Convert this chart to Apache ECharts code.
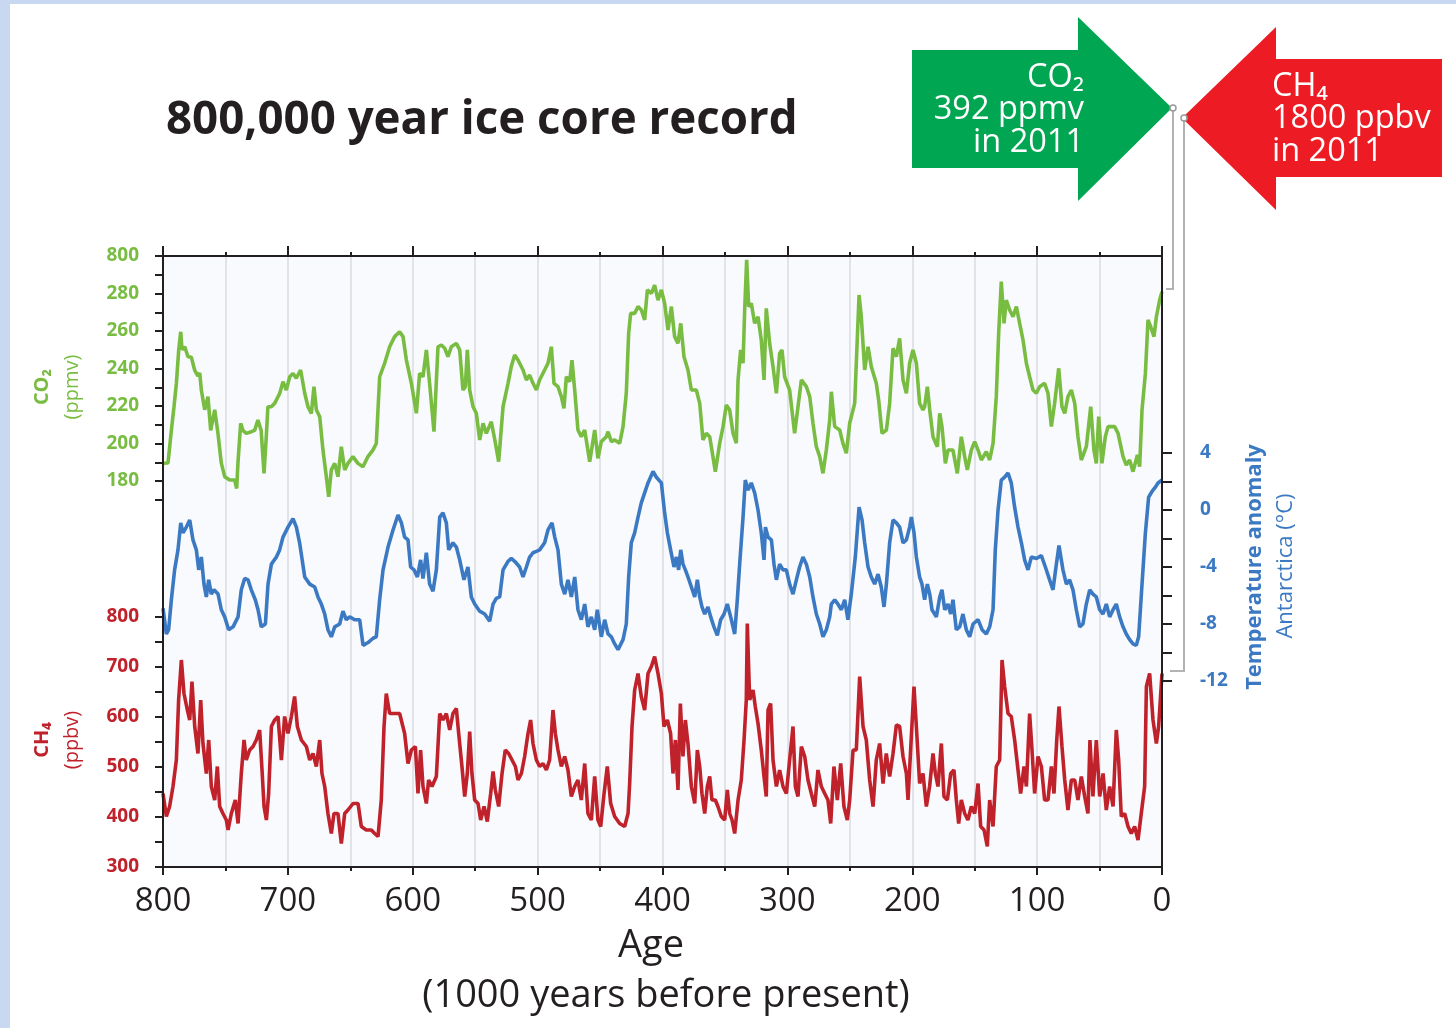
<!DOCTYPE html>
<html>
<head>
<meta charset="utf-8">
<script src="https://cdn.jsdelivr.net/npm/echarts@6/dist/echarts.min.js"></script>
<style>
  html, body { margin: 0; padding: 0; background: #ffffff; }
  #chart { width: 1456px; height: 1028px; }
</style>
</head>
<body>
<div id="chart"></div>
<script>
// ---- Data: [age (thousand years before present), value] ----
const co2 = [
  [800,189.5],[796,189.6],[793.3,207],[791.2,219.6],[789.3,232],[787.4,250],[785.8,259.6],[784.8,250],[782.6,251.6],[780,246.3],
  [777.3,246],[774.6,239],[772,236],[770.6,237.6],[769.3,228.5],[766.6,218],[764,225],[761.8,207],[758.6,218],[756,205.5],
  [753.3,189.5],[750.6,182.3],[746.6,180.5],[742.6,180.5],[741,176],[740,189.4],[737.8,210.8],[736,207],[733.3,205.4],[729.3,206.3],
  [726.6,207],[724,212.5],[721.4,207],[719.1,184],[717.3,203.6],[716,219.6],[713.3,219.6],[710.6,221.4],[706.5,226.8],[703.9,233],
  [701.3,228.5],[698.5,235.6],[695.9,237.4],[693.3,234.8],[689.8,239.2],[686.5,226.8],[683.9,219.6],[681.2,216],[679.1,230.3],[677.2,218],
  [674.5,214.3],[671.9,196.5],[669.2,182.3],[667.3,171.6],[665.2,185.9],[662.5,189.4],[659.9,182.3],[657.2,198.3],[654.5,185.9],[651.9,189.4],
  [647.9,193],[643.9,189.4],[639.9,187.6],[635.9,193],[631.9,196.5],[629.2,200],[626.5,235.6],[622.5,242.8],[618.5,251.6],[614.5,257],
  [610.5,259.6],[607.8,257],[605.1,244.5],[601.1,232.1],[597.1,216.1],[594.5,237.4],[591.8,235.6],[589.1,249.9],[586.5,232.1],[583,206.3],
  [579.8,251.6],[577.1,252.5],[574.4,250.8],[571.8,246.3],[569.1,251.6],[565.1,253.4],[562.4,249.9],[559.8,228.5],[557.9,230.3],[556.3,249.9],
  [554.4,228.5],[551.7,219.6],[549.1,216.1],[546.4,201.9],[543.7,210.8],[541.1,205.4],[537.1,211.6],[534.4,202.4],[531.2,190.3],[527.7,219.6],
  [523.7,232.1],[521.1,241],[518.4,247.2],[515.7,244.5],[511.7,239.2],[509,233.9],[506.4,236.5],[503.7,232.1],[501,228.5],[498.4,233.9],
  [494.4,239.2],[491.7,242.8],[489,251.6],[486.9,232.1],[483.7,230.3],[481,225],[478.9,218.8],[477,235.6],[474.3,233],[472.5,244.5],
  [470.3,228.5],[467.7,207.2],[465,203.6],[462.3,207.2],[458.3,190.3],[454.3,207.2],[451.7,192.1],[449,201],[445,203.6],[443.6,206.3],
  [441,201],[438.3,201.9],[434.3,200.1],[431.6,209],[429,226.8],[427.1,258.8],[425.5,269.4],[422.3,269.4],[419.6,273],[416.9,271.2],
  [414.3,265.9],[412.1,281.9],[408.9,280.1],[406.3,284.5],[403.6,276.5],[400.9,281.9],[398.3,274.8],[395.6,260.5],[392.9,273],[390.3,257],
  [387.6,253.4],[385.4,264.1],[382.8,246.3],[379.6,239.2],[376.9,228.5],[372.9,228.5],[370.2,221.4],[367.6,201.9],[364.9,205.4],[362.2,203.6],
  [359.6,193],[357.7,185],[354.2,200.1],[351.5,209],[348.9,220.5],[346.2,217.9],[343.5,205.4],[340.9,200.1],[339.5,233.9],[337.4,249.9],
  [335.5,242.8],[334.2,271.2],[332.6,297.9],[331,273],[328.9,274.8],[326.2,264.1],[323.5,267.6],[320.9,255.2],[318.7,233.9],[316.9,272.1],
  [314.2,253.4],[311.5,241],[308.8,226.8],[306.2,248.1],[304.3,249.9],[302.2,235.6],[298.2,228.5],[294.2,205.4],[291.5,219.6],[288.8,233.9],
  [284.8,230.3],[282.1,225],[279.5,210.8],[276.8,198.3],[274.1,193],[271.5,184.1],[268.8,196.5],[266.1,212.5],[264.8,227.6],[262.1,209],
  [258.1,207.2],[255.5,200.1],[252.8,194.8],[250.1,210.8],[246.1,221.4],[242.6,279.2],[240.8,267.6],[238.1,239.2],[235.4,251.6],[232.8,241],
  [228.8,232.1],[226.9,223.2],[224.2,205.4],[220.7,207.2],[218.1,221.4],[215.4,250.8],[212.7,246.3],[210.1,256.1],[207.4,233.9],[204.7,226.8],
  [202.1,242.8],[199.4,249.9],[196.7,242.8],[194.1,221.4],[191.4,217.9],[190.1,219.6],[187.9,230.3],[186,217.9],[183.4,203.6],[179.9,198.3],
  [178,216.1],[176.2,209],[173.5,189.4],[171.4,196.5],[167.4,196.5],[163.9,184.1],[160.7,203.6],[158,193],[155.9,185.9],[152.7,196.5],
  [150,201],[147.3,196.5],[144.7,191.2],[140.7,195.6],[138,191.2],[135.3,200.1],[132.7,225],[130.8,258.8],[128.7,286.3],[126.5,264.1],
  [124.7,276.5],[122,271.2],[119.3,267.6],[116.6,273],[114,264.1],[111.3,255.2],[108.6,242.8],[106,235.6],[103.3,228.5],[100.6,226.8],
  [98,230.3],[94,232.1],[91.3,226.8],[88.6,209],[86,221.4],[82.7,240.1],[80.1,219.6],[77.9,216.1],[75.3,225],[72.6,228.5],
  [69.9,221.4],[67.3,203.6],[64.6,191.2],[60.6,198.3],[57.1,219.6],[54.5,196.5],[52.6,189.4],[50.7,214.3],[48.1,189.4],[45.4,203.6],
  [43.2,209],[37.9,209],[35.2,205.4],[31.2,193],[28.6,188.5],[25.9,191.2],[23.2,185],[19.7,193.9],[17.9,187.6],[16,217.9],
  [13.3,237.4],[11.2,265.9],[9.1,262.3],[6.4,257],[4.5,267.6],[1.9,276.5],[0,281]
];

const tempAnomaly = [
  [800,-6.9],[797.3,-8.7],[795.5,-8.4],[793.3,-6.3],[790.7,-4.2],[788,-2.8],[785.8,-0.9],[784,-1.6],[781.3,-1.2],[778.6,-0.7],
  [776,-2.1],[773.3,-2.8],[771.4,-4.2],[769.3,-3.3],[767.2,-5.2],[765.3,-6.1],[763.4,-4.9],[761.3,-5.9],[759.2,-5.6],[755.9,-5.9],
  [753.3,-7.0],[750.6,-7.5],[747.4,-8.4],[743.9,-8.2],[739.9,-7.5],[737.3,-5.6],[734.6,-4.8],[731.9,-4.9],[729.3,-5.6],[726.1,-6.3],
  [723.9,-7.0],[721.3,-8.2],[718,-8.0],[715.9,-5.2],[713.2,-3.8],[709.2,-3.3],[706.6,-2.8],[703.9,-1.9],[699.9,-1.2],[695.9,-0.6],
  [693.2,-1.2],[690.6,-2.3],[686.5,-4.7],[682.5,-5.2],[678.5,-5.4],[675.9,-6.1],[673.2,-6.6],[670.5,-7.3],[667.9,-8.4],[665.2,-8.9],
  [662.5,-8.2],[658.5,-8.0],[655.9,-7.1],[653.2,-7.7],[650.5,-7.5],[646.5,-7.7],[642.5,-7.7],[639.8,-9.5],[635.8,-9.3],[631.8,-9.0],
  [629.2,-8.9],[626.5,-6.3],[623.8,-4.2],[619.8,-2.6],[615.8,-1.4],[611.8,-0.35],[609.1,-0.9],[606.5,-1.9],[603.8,-2.1],[601.7,-4.0],
  [599,-4.2],[596.3,-4.7],[593.7,-3.5],[591.8,-4.8],[589.1,-3.0],[586.5,-5.2],[583.8,-5.7],[581.1,-4.2],[578.4,-0.5],[575.8,-0.2],
  [573.1,-0.9],[571.2,-2.8],[567.8,-2.3],[565.1,-2.6],[562.4,-3.5],[559,-4.9],[555.8,-4.0],[553.1,-6.1],[550.4,-6.6],[546.4,-7.1],
  [542.4,-7.3],[538.4,-7.8],[535.7,-6.6],[533.1,-6.2],[530.4,-6.1],[527.7,-4.2],[523.7,-3.6],[521.1,-3.4],[518.4,-3.6],[514.4,-4.0],
  [511.7,-4.7],[509,-4.0],[506.4,-3.3],[503.7,-3.0],[501,-2.9],[498.4,-2.8],[494.4,-2.3],[491.7,-1.4],[488.5,-0.9],[486.3,-1.9],
  [483.7,-2.8],[481,-5.2],[478.3,-5.9],[475.7,-4.9],[473,-6.1],[470.3,-4.7],[467.7,-7.0],[465,-7.7],[462.3,-6.6],[459.7,-8.2],
  [457,-7.5],[454.3,-8.4],[452.2,-7.0],[449,-8.9],[446.3,-7.7],[443.6,-8.7],[441,-8.9],[438.3,-9.4],[435.6,-9.8],[431.6,-9.1],
  [429,-8.0],[427.1,-4.7],[425,-2.3],[422.3,-1.6],[419.6,-0.5],[417,0.5],[414.3,1.2],[411.6,1.9],[407.6,2.7],[404.9,2.3],
  [400.9,1.9],[398.3,-0.2],[396.1,-1.6],[393.5,-2.8],[390.8,-4.0],[388.9,-3.3],[387.1,-4.2],[385.4,-2.8],[383.6,-3.8],[381.7,-4.2],
  [379.6,-4.7],[376.9,-5.4],[374.2,-6.1],[372.1,-4.9],[370.2,-6.1],[368.4,-6.8],[366.2,-7.3],[363.6,-6.8],[361.4,-7.5],[358.8,-8.2],
  [356.1,-8.8],[353.4,-7.7],[350.7,-7.3],[348.1,-6.6],[345.4,-7.5],[342.2,-8.7],[340.1,-6.3],[338.2,-3.8],[335.5,-0.5],[333.7,2.1],
  [331.5,1.4],[328.9,1.9],[326.2,1.2],[323.5,0.0],[320.9,-1.6],[318.7,-3.5],[317.6,-1.2],[315.5,-1.9],[312.8,-2.1],[310.7,-3.8],
  [308.8,-4.9],[306.2,-3.8],[303.5,-4.2],[300.8,-4.2],[298.2,-5.2],[295.5,-5.9],[292.8,-4.9],[290.2,-4.0],[287.5,-3.3],[284.8,-3.8],
  [282.1,-4.7],[279.5,-6.1],[276.8,-7.3],[274.1,-8.0],[271.5,-8.9],[268.8,-8.4],[266.1,-7.5],[264.8,-6.6],[262.1,-6.3],[259.5,-6.6],
  [256.8,-7.0],[254.1,-6.3],[251.5,-7.7],[248.8,-5.9],[245.6,-3.3],[242.6,0.2],[240.2,-0.7],[238.1,-2.3],[235.4,-4.0],[232.8,-4.7],
  [230.1,-5.2],[227.4,-4.5],[224.8,-5.4],[222.6,-6.8],[220.7,-5.2],[218.1,-2.3],[215.4,-0.7],[212.7,-0.9],[210.1,-1.2],[207.4,-2.3],
  [204.7,-2.1],[202.1,-1.2],[200.7,-0.5],[198.6,-1.6],[196.7,-3.3],[194.1,-4.7],[192.2,-5.2],[190.1,-6.3],[187.9,-5.2],[186,-5.9],
  [184.2,-7.0],[180.7,-7.5],[178,-6.1],[176.2,-5.6],[174,-7.0],[171.4,-6.6],[169.2,-7.3],[167.4,-6.3],[164.7,-8.4],[162,-8.2],
  [159.4,-7.3],[156.7,-8.4],[154,-8.9],[151.3,-8.0],[147.3,-7.7],[144.1,-8.4],[140.7,-8.7],[138,-8.2],[135.3,-7.0],[133.5,-2.8],
  [131.3,0.0],[128.7,2.1],[126,2.3],[123.3,2.6],[120.7,1.9],[118,0.2],[115.3,-1.2],[112.6,-2.3],[110,-3.5],[107.3,-4.2],
  [104.6,-3.3],[100.6,-3.4],[96.6,-3.2],[93.4,-4.0],[90,-4.9],[87.3,-5.6],[84.6,-3.8],[82.5,-2.5],[79.3,-4.2],[76.6,-5.2],
  [74,-4.9],[71.3,-5.6],[68.6,-7.0],[65.9,-8.2],[63.3,-8.0],[60.6,-6.6],[57.9,-5.6],[55.3,-5.9],[52.6,-6.1],[49.9,-7.0],
  [47.2,-7.3],[44.6,-6.6],[41.9,-7.5],[39.2,-7.0],[36.6,-6.6],[33.9,-7.5],[31.2,-8.2],[28.6,-8.7],[25.9,-9.1],[23.2,-9.4],
  [20.6,-9.5],[18.7,-8.9],[16,-5.2],[13.3,-1.6],[10.7,0.9],[8,1.3],[5.3,1.6],[3.2,1.9],[0,2.1]
];

const ch4 = [
  [800,447],[797.3,401],[794.7,421],[792,461],[789.3,514],[787.5,634],[785.3,714],[783.2,647],[780.5,614],[778.6,594],
  [776.8,671],[774.6,581],[772,527],[769.8,634],[768,547],[765.3,487],[763.4,554],[761.3,461],[758.6,434],[756.5,501],
  [754.6,421],[752,407],[749.3,394],[747.9,374],[745.3,407],[742.1,434],[739.9,387],[737.3,487],[735.1,554],[733.3,514],
  [730.6,534],[727.9,541],[725.3,554],[722.6,574],[720.7,494],[719.1,421],[717.2,394],[715.4,447],[713.2,581],[710.6,594],
  [707.9,601],[705.2,514],[702.6,601],[699.9,567],[697.2,601],[694.6,641],[692.4,581],[689.2,554],[685.2,541],[682.5,514],
  [679.9,527],[677.2,501],[674.5,554],[672.7,487],[670.5,461],[667.9,407],[665.2,367],[663.1,407],[659.9,407],[657.2,347],
  [654.5,407],[651.9,414],[647.8,427],[643.8,427],[641.2,381],[637.2,374],[633.2,374],[630.5,367],[627.8,361],[625.2,434],
  [623,581],[621.2,647],[618.5,607],[614.5,607],[610.5,607],[606.5,567],[603.8,507],[601.1,534],[597.9,541],[595.8,447],
  [593.7,534],[591.8,461],[589.1,427],[587.3,474],[584.6,461],[581.1,481],[578.4,607],[575.8,594],[573.1,607],[570.4,574],
  [567.8,607],[565.1,617],[563.2,567],[560.6,501],[558.4,441],[556.3,487],[554.4,571],[552.6,487],[550.4,434],[547.7,427],
  [545.6,394],[542.9,421],[540.3,391],[537.6,447],[535.7,491],[533.9,454],[531.2,421],[528.5,487],[525.9,534],[523.2,527],
  [520.5,514],[517.8,501],[515.7,474],[513,487],[510.4,521],[507.7,567],[505.6,594],[503.7,547],[501,514],[498.4,501],
  [495.7,507],[493,494],[490.4,514],[487.7,614],[485.8,567],[483.7,534],[481,501],[478.3,521],[475.7,494],[473,441],
  [470.3,461],[467.7,474],[465,434],[462.3,507],[459.7,407],[457,394],[454.3,481],[451.7,394],[449.5,381],[446.8,447],
  [444.2,501],[441.5,427],[438.3,401],[434.3,387],[430.3,381],[427.6,407],[426.3,467],[424.4,581],[422.3,654],[419.6,687],
  [417,641],[414.3,614],[411.6,687],[408.9,701],[406.3,721],[403.6,687],[400.9,647],[398.8,581],[396.1,594],[393.5,567],
  [391.6,487],[389.7,554],[387.6,454],[385.7,627],[383.6,521],[381.7,594],[379.6,547],[376.9,461],[374.2,427],[372.1,534],
  [370.2,501],[368.4,447],[366.2,407],[364.1,461],[362.2,481],[360.4,434],[357.7,434],[355.6,421],[352.9,401],[350.2,394],
  [348.1,454],[346.2,407],[344.3,394],[342.2,367],[339.5,434],[336.9,474],[334.7,554],[332.9,634],[332.1,787],[330.2,634],
  [327.5,654],[325.7,621],[323.5,587],[320.9,534],[318.7,481],[316.9,441],[315.5,614],[313.4,627],[311.5,514],[308.8,461],
  [306.2,494],[303.5,461],[300.8,447],[298.2,514],[295.5,581],[293.6,461],[291.5,441],[288.8,541],[286.1,521],[283.5,474],
  [280.8,447],[278.1,421],[275.5,494],[272.8,461],[270.1,447],[267.5,434],[265.3,387],[262.7,501],[260,434],[257.3,507],
  [254.7,421],[252,394],[250.1,434],[247.4,534],[244.8,534],[242.1,681],[239.4,581],[236.8,554],[234.1,474],[231.4,421],
  [228.8,514],[226.1,547],[223.4,467],[220.8,527],[218.1,481],[215.4,527],[212.7,584],[210.1,581],[207.4,521],[204.7,487],
  [203.4,434],[201.3,534],[198.6,661],[196.7,581],[194.1,467],[191.4,487],[188.7,421],[186.1,461],[183.4,527],[181.5,487],
  [179.4,461],[176.7,547],[174.6,441],[171.9,434],[169.2,487],[166.6,494],[164.7,434],[162.8,387],[160.7,434],[158,407],
  [155.4,394],[152.7,421],[150,407],[147.3,467],[145.2,381],[142.5,374],[139.9,341],[138,434],[135.3,381],[132.7,501],
  [130,514],[128.1,714],[126,661],[123.3,607],[120.7,601],[118,554],[115.3,494],[113.2,447],[110.5,501],[108.6,461],
  [106,607],[104.1,534],[102,447],[99.3,521],[96.6,501],[94,434],[91.3,434],[88.6,501],[86.5,447],[84.3,554],
  [82.5,621],[80.1,541],[77.9,474],[75.3,414],[72.6,474],[69.9,474],[67.3,434],[64.6,481],[61.9,441],[59.3,407],
  [57.7,554],[55.3,441],[52.6,554],[49.9,441],[47.2,487],[44.6,414],[41.9,461],[39.2,421],[36.6,574],[34.7,514],
  [32.6,401],[29.9,407],[27.2,381],[24.6,367],[21.9,381],[19.2,354],[16.6,407],[13.9,461],[12.5,661],[9.9,687],
  [7.2,594],[4.5,547],[2.7,581],[0,687]
];

// ---- Tick labels ----
const ageTickValues = [0, 100, 200, 300, 400, 500, 600, 700, 800];
const co2TickValues = [180, 200, 220, 240, 260, 280, 300];
const co2TickTexts  = ['180', '200', '220', '240', '260', '280', '800'];
const tempTickValues = [-12, -8, -4, 0, 4];
const ch4TickValues = [300, 400, 500, 600, 700, 800];

// ---- Present-day values ----
const co2Now = { label: 'CO\u2082', value: '392 ppmv', year: 'in 2011' };
const ch4Now = { label: 'CH\u2084', value: '1800 ppbv', year: 'in 2011' };

// ---- Styling ----
const FONT = "'Open Sans', 'Noto Sans', 'DejaVu Sans', sans-serif";
const INK = '#231f20';
const GREEN = '#78bd42';
const BLUE = '#3b79c3';
const RED = '#c0222b';
const PLOT = { left: 163, top: 256, width: 999, height: 611 };

const chart = echarts.init(document.getElementById('chart'), null, { renderer: 'canvas' });

function hiddenX(gridIndex) {
  return { type: 'value', gridIndex, min: 0, max: 800, inverse: true, show: false,
           axisLine: { onZero: false } };
}
function tickFormatter(values, texts) {
  return function (v) {
    const i = values.indexOf(Math.round(v * 1000) / 1000);
    return i < 0 ? '' : (texts ? texts[i] : String(values[i]));
  };
}
const tickLabelStyle = (color) => ({
  color, fontFamily: FONT, fontWeight: 'bold', fontSize: 19
});
const blackTick = (len) => ({ show: true, inside: false, length: len, lineStyle: { color: INK, width: 2 } });

const option = {
  backgroundColor: '#ffffff',
  animation: false,
  grid: [
    { left: PLOT.left, top: PLOT.top, width: PLOT.width, height: PLOT.height,
      show: true, backgroundColor: '#f9fafd', borderWidth: 0 },
    // CO2 band: 170–300 ppmv
    { left: PLOT.left, top: 256, width: PLOT.width, height: 243.75 },
    // temperature band: -12 to 4 °C
    { left: PLOT.left, top: 453, width: PLOT.width, height: 228 },
    // CH4 band: 300–800 ppbv
    { left: PLOT.left, top: 617, width: PLOT.width, height: 250 }
  ],
  xAxis: [
    { // bottom age axis with labels
      type: 'value', gridIndex: 0, position: 'bottom', min: 0, max: 800, interval: 100, inverse: true, z: 5,
      axisLine: { show: true, onZero: false, lineStyle: { color: INK, width: 2 } },
      axisTick: blackTick(8),
      minorTick: { show: true, splitNumber: 2, length: 4, lineStyle: { color: INK, width: 2 } },
      axisLabel: { color: INK, fontFamily: FONT, fontSize: 33, margin: 18,
                   formatter: tickFormatter(ageTickValues) },
      splitLine: { show: false }
    },
    { // top frame edge with ticks
      type: 'value', gridIndex: 0, position: 'top', min: 0, max: 800, interval: 100, inverse: true, z: 5,
      axisLine: { show: true, onZero: false, lineStyle: { color: INK, width: 2 } },
      axisTick: blackTick(10),
      minorTick: { show: true, splitNumber: 2, length: 4, lineStyle: { color: INK, width: 2 } },
      axisLabel: { show: false },
      splitLine: { show: false }
    },
    { // vertical grid lines every 50 kyr
      type: 'value', gridIndex: 0, position: 'bottom', min: 0, max: 800, interval: 100, inverse: true, z: 1,
      axisLine: { show: false, onZero: false }, axisTick: { show: false }, axisLabel: { show: false },
      minorTick: { show: false, splitNumber: 2 },
      splitLine: { show: true, lineStyle: { color: '#e2e3e8', width: 2 } },
      minorSplitLine: { show: true, lineStyle: { color: '#e2e3e8', width: 2 } }
    },
    hiddenX(1), hiddenX(2), hiddenX(3)
  ],
  yAxis: [
    { type: 'value', gridIndex: 0, position: 'left', min: 0, max: 1, z: 5,
      axisLine: { show: true, onZero: false, lineStyle: { color: INK, width: 2 } },
      axisTick: { show: false }, axisLabel: { show: false }, splitLine: { show: false } },
    { type: 'value', gridIndex: 0, position: 'right', min: 0, max: 1, z: 5,
      axisLine: { show: true, onZero: false, lineStyle: { color: INK, width: 2 } },
      axisTick: { show: false }, axisLabel: { show: false }, splitLine: { show: false } },
    { // CO2
      type: 'value', gridIndex: 1, position: 'left', min: 170, max: 300, interval: 10, z: 5,
      axisLine: { show: true, onZero: false, lineStyle: { color: INK, width: 2 } },
      axisTick: blackTick(8),
      axisLabel: Object.assign(tickLabelStyle(GREEN), { margin: 24, formatter: tickFormatter(co2TickValues, co2TickTexts) }),
      splitLine: { show: false }
    },
    { // temperature
      type: 'value', gridIndex: 2, position: 'right', min: -12, max: 4, interval: 2, z: 5,
      axisLine: { show: true, onZero: false, lineStyle: { color: INK, width: 2 } },
      axisTick: blackTick(10),
      axisLabel: Object.assign(tickLabelStyle(BLUE), { margin: 38, formatter: tickFormatter(tempTickValues) }),
      splitLine: { show: false }
    },
    { // CH4
      type: 'value', gridIndex: 3, position: 'left', min: 300, max: 800, interval: 50, z: 5,
      axisLine: { show: true, onZero: false, lineStyle: { color: INK, width: 2 } },
      axisTick: blackTick(8),
      axisLabel: Object.assign(tickLabelStyle(RED), { margin: 24, formatter: tickFormatter(ch4TickValues) }),
      splitLine: { show: false }
    }
  ],
  series: [
    { name: 'CO2', type: 'line', xAxisIndex: 3, yAxisIndex: 2, data: co2, showSymbol: false,
      lineStyle: { color: GREEN, width: 3.6 }, z: 3 },
    { name: 'Temperature', type: 'line', xAxisIndex: 4, yAxisIndex: 3, data: tempAnomaly, showSymbol: false,
      lineStyle: { color: BLUE, width: 3.6 }, z: 3 },
    { name: 'CH4', type: 'line', xAxisIndex: 5, yAxisIndex: 4, data: ch4, showSymbol: false,
      lineStyle: { color: RED, width: 3.6 }, z: 3 }
  ],
  graphic: [
    // page edge bands
    { type: 'rect', shape: { x: 0, y: 0, width: 10, height: 1028 }, style: { fill: '#c8d8f0' }, silent: true },
    { type: 'rect', shape: { x: 0, y: 0, width: 1456, height: 4 }, style: { fill: '#c8d8f0' }, silent: true },
    // title
    { type: 'text', x: 166, y: 121, style: { text: '800,000 year ice core record', fill: INK,
      fontFamily: FONT, fontWeight: 'bold', fontSize: 45.7, align: 'left', verticalAlign: 'middle' } },
    // axis titles
    { type: 'text', x: 651, y: 946, style: { text: 'Age', fill: INK, fontFamily: FONT, fontSize: 38,
      align: 'center', verticalAlign: 'middle' } },
    { type: 'text', x: 666, y: 996, style: { text: '(1000 years before present)', fill: INK, fontFamily: FONT, fontSize: 38,
      align: 'center', verticalAlign: 'middle' } },
    { type: 'text', x: 42, y: 387, rotation: Math.PI / 2, style: { text: 'CO\u2082', fill: GREEN, fontFamily: FONT,
      fontWeight: 'bold', fontSize: 20, align: 'center', verticalAlign: 'middle' } },
    { type: 'text', x: 72, y: 387, rotation: Math.PI / 2, style: { text: '(ppmv)', fill: GREEN, fontFamily: FONT,
      fontSize: 20, align: 'center', verticalAlign: 'middle' } },
    { type: 'text', x: 42, y: 740, rotation: Math.PI / 2, style: { text: 'CH\u2084', fill: RED, fontFamily: FONT,
      fontWeight: 'bold', fontSize: 20, align: 'center', verticalAlign: 'middle' } },
    { type: 'text', x: 72, y: 740, rotation: Math.PI / 2, style: { text: '(ppbv)', fill: RED, fontFamily: FONT,
      fontSize: 20, align: 'center', verticalAlign: 'middle' } },
    { type: 'text', x: 1255, y: 567, rotation: Math.PI / 2, style: { text: 'Temperature anomaly', fill: BLUE, fontFamily: FONT,
      fontWeight: 'bold', fontSize: 22, align: 'center', verticalAlign: 'middle' } },
    { type: 'text', x: 1286, y: 566, rotation: Math.PI / 2, style: { text: 'Antarctica (\u00b0C)', fill: BLUE, fontFamily: FONT,
      fontSize: 22, align: 'center', verticalAlign: 'middle' } },
    // present-day arrows
    { type: 'polygon', shape: { points: [[912, 50], [1078, 50], [1078, 17], [1172, 108], [1078, 201], [1078, 168], [912, 168]] },
      style: { fill: '#00a651' }, z: 10 },
    { type: 'polygon', shape: { points: [[1442, 59], [1276, 59], [1276, 27], [1182, 118], [1276, 210], [1276, 177], [1442, 177]] },
      style: { fill: '#ed1c24' }, z: 10 },
    { type: 'text', x: 1084, y: 78, z: 11, style: { text: co2Now.label, fill: '#ffffff', fontFamily: FONT, fontSize: 32.5, align: 'right', verticalAlign: 'middle' } },
    { type: 'text', x: 1084, y: 110, z: 11, style: { text: co2Now.value, fill: '#ffffff', fontFamily: FONT, fontSize: 32.5, align: 'right', verticalAlign: 'middle' } },
    { type: 'text', x: 1084, y: 143, z: 11, style: { text: co2Now.year, fill: '#ffffff', fontFamily: FONT, fontSize: 32.5, align: 'right', verticalAlign: 'middle' } },
    { type: 'text', x: 1272, y: 87, z: 11, style: { text: ch4Now.label, fill: '#ffffff', fontFamily: FONT, fontSize: 32.5, align: 'left', verticalAlign: 'middle' } },
    { type: 'text', x: 1272, y: 119, z: 11, style: { text: ch4Now.value, fill: '#ffffff', fontFamily: FONT, fontSize: 32.5, align: 'left', verticalAlign: 'middle' } },
    { type: 'text', x: 1272, y: 152, z: 11, style: { text: ch4Now.year, fill: '#ffffff', fontFamily: FONT, fontSize: 32.5, align: 'left', verticalAlign: 'middle' } },
    // leader lines from arrow tips to the end of the record
    { type: 'polyline', shape: { points: [[1173, 108], [1173, 289], [1166, 289]] },
      style: { stroke: '#b3b3b3', lineWidth: 2, fill: null }, z: 9 },
    { type: 'polyline', shape: { points: [[1184, 118], [1184, 671], [1170, 671]] },
      style: { stroke: '#b3b3b3', lineWidth: 2, fill: null }, z: 9 },
    { type: 'circle', shape: { cx: 1173, cy: 108, r: 3 }, style: { stroke: '#9a9a9a', fill: '#ffffff', lineWidth: 1.5 }, z: 12 },
    { type: 'circle', shape: { cx: 1184, cy: 118, r: 3 }, style: { stroke: '#9a9a9a', fill: '#ffffff', lineWidth: 1.5 }, z: 12 }
  ]
};

chart.setOption(option);
</script>
</body>
</html>
